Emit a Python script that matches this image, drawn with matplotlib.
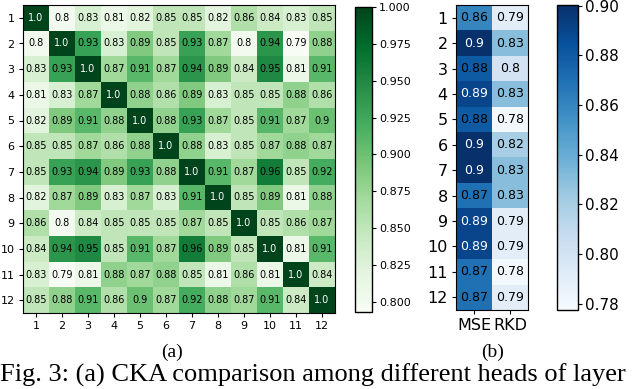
import numpy as np
import matplotlib.pyplot as plt

# CKA between heads (12 x 12)
heads = [str(i) for i in range(1, 13)]
cka_heads = [
    [1.0, 0.8, 0.83, 0.81, 0.82, 0.85, 0.85, 0.82, 0.86, 0.84, 0.83, 0.85],
    [0.8, 1.0, 0.93, 0.83, 0.89, 0.85, 0.93, 0.87, 0.8, 0.94, 0.79, 0.88],
    [0.83, 0.93, 1.0, 0.87, 0.91, 0.87, 0.94, 0.89, 0.84, 0.95, 0.81, 0.91],
    [0.81, 0.83, 0.87, 1.0, 0.88, 0.86, 0.89, 0.83, 0.85, 0.85, 0.88, 0.86],
    [0.82, 0.89, 0.91, 0.88, 1.0, 0.88, 0.93, 0.87, 0.85, 0.91, 0.87, 0.9],
    [0.85, 0.85, 0.87, 0.86, 0.88, 1.0, 0.88, 0.83, 0.85, 0.87, 0.88, 0.87],
    [0.85, 0.93, 0.94, 0.89, 0.93, 0.88, 1.0, 0.91, 0.87, 0.96, 0.85, 0.92],
    [0.82, 0.87, 0.89, 0.83, 0.87, 0.83, 0.91, 1.0, 0.85, 0.89, 0.81, 0.88],
    [0.86, 0.8, 0.84, 0.85, 0.85, 0.85, 0.87, 0.85, 1.0, 0.85, 0.86, 0.87],
    [0.84, 0.94, 0.95, 0.85, 0.91, 0.87, 0.96, 0.89, 0.85, 1.0, 0.81, 0.91],
    [0.83, 0.79, 0.81, 0.88, 0.87, 0.88, 0.85, 0.81, 0.86, 0.81, 1.0, 0.84],
    [0.85, 0.88, 0.91, 0.86, 0.9, 0.87, 0.92, 0.88, 0.87, 0.91, 0.84, 1.0],
]

# CKA of each head against MSE / RKD targets
methods = ["MSE", "RKD"]
cka_mse = [0.86, 0.9, 0.88, 0.89, 0.88, 0.9, 0.9, 0.87, 0.89, 0.89, 0.87, 0.87]
cka_rkd = [0.79, 0.83, 0.8, 0.83, 0.78, 0.82, 0.83, 0.83, 0.79, 0.79, 0.78, 0.79]

green_ticks = [0.800, 0.825, 0.850, 0.875, 0.900, 0.925, 0.950, 0.975, 1.000]
blue_ticks = [0.78, 0.80, 0.82, 0.84, 0.86, 0.88, 0.90]

plt.rcParams["font.family"] = ["DejaVu Sans"]

W, H = 640, 389
fig = plt.figure(figsize=(W / 100, H / 100), dpi=100)


def box(x0, y0, x1, y1):
    # pixel box (top-left origin) -> figure fraction
    return [x0 / W, 1 - y1 / H, (x1 - x0) / W, (y1 - y0) / H]


# (a) head-vs-head heatmap
A = np.array(cka_heads)
ax1 = fig.add_axes(box(23, 5, 335, 313))
im1 = ax1.imshow(A, cmap="Greens", vmin=0.793, vmax=1.0, aspect="auto")
for i in range(A.shape[0]):
    for j in range(A.shape[1]):
        v = A[i, j]
        ax1.text(j, i, str(round(v, 2)), ha="center", va="center", fontsize=7,
                 color="white" if v > 0.97 else "black")
ax1.set_xticks(np.arange(len(heads)))
ax1.set_xticklabels(heads, fontsize=8)
ax1.set_yticks(np.arange(len(heads)))
ax1.set_yticklabels(heads, fontsize=8)
ax1.tick_params(length=3, pad=3)

cax1 = fig.add_axes(box(355, 7, 372, 312))
cb1 = fig.colorbar(im1, cax=cax1, ticks=green_ticks)
cb1.ax.set_yticklabels([f"{t:.3f}" for t in green_ticks], fontsize=8)
cb1.ax.tick_params(length=3, pad=2)
cb1.outline.set_linewidth(1)

# (b) MSE / RKD heatmap
B = np.array([cka_mse, cka_rkd]).T
ax2 = fig.add_axes(box(456, 5, 528, 310))
im2 = ax2.imshow(B, cmap="Blues", vmin=0.7775, vmax=0.9003, aspect="auto")
for i in range(B.shape[0]):
    for j in range(B.shape[1]):
        v = B[i, j]
        ax2.text(j, i, str(round(v, 2)), ha="center", va="center", fontsize=9,
                 color="white" if v > 0.885 else "black")
ax2.set_xticks(np.arange(len(methods)))
ax2.set_xticklabels(methods, fontsize=11.5)
ax2.set_yticks(np.arange(len(heads)))
ax2.set_yticklabels(heads, fontsize=11.5)
ax2.tick_params(length=3, pad=3)

cax2 = fig.add_axes(box(557, 5, 578, 310))
cb2 = fig.colorbar(im2, cax=cax2, ticks=blue_ticks)
cb2.ax.set_yticklabels([f"{t:.2f}" for t in blue_ticks], fontsize=11)
cb2.ax.tick_params(length=3, pad=2)
cb2.outline.set_linewidth(1)

# captions
serif = ["Liberation Serif", "DejaVu Serif"]
fig.text(172 / W, 1 - 352 / H, "(a)", ha="center", va="center", fontsize=14, family=serif)
fig.text(493 / W, 1 - 352 / H, "(b)", ha="center", va="center", fontsize=14, family=serif)
fig.text(0 / W, 1 - 382 / H, "Fig. 3: (a) CKA comparison among different heads of layer",
         ha="left", va="baseline", fontsize=19, family=serif)

fig.savefig("out.png", dpi=100)
